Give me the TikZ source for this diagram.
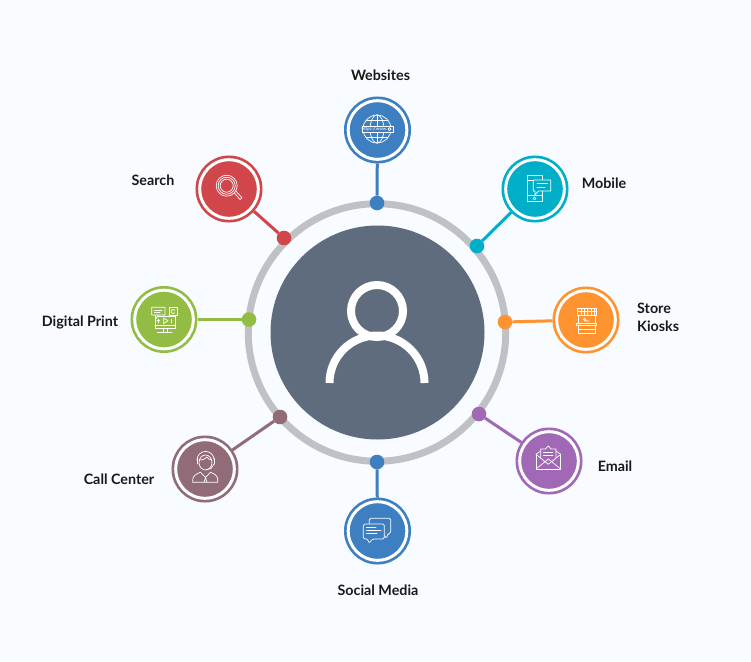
\documentclass[tikz,border=0pt]{standalone}
\usepackage{fontspec}
\setmainfont{Lato}
\usepackage{xcolor}
\usetikzlibrary{calc}
\definecolor{pagebg}{HTML}{F8FBFF}
\definecolor{hubgray}{HTML}{5F6C7E}
\definecolor{ringgray}{HTML}{C0C1C4}
\definecolor{cblue}{HTML}{3E7FC1}
\definecolor{cred}{HTML}{D0464B}
\definecolor{cteal}{HTML}{00AEC7}
\definecolor{corange}{HTML}{FF932F}
\definecolor{cpurple}{HTML}{A068B5}
\definecolor{cmauve}{HTML}{916C78}
\definecolor{cgreen}{HTML}{93BC45}
\tikzstyle{sat}=[circle,inner sep=0pt,outer sep=4.2pt,minimum size=58.6pt,line width=2.7pt,double=white,double distance=3pt]
\tikzstyle{dotn}=[circle,inner sep=0pt,outer sep=0pt,minimum size=14.6pt]
\tikzstyle{lab}=[font=\fontsize{14.3pt}{18pt}\selectfont\bfseries,text=black!90,inner sep=0pt]
\tikzstyle{link}=[line width=3pt]
\tikzstyle{ico}=[draw=white,line width=.7pt,line join=round,line cap=round]
\begin{document}
\begin{tikzpicture}[x=1pt,y=-1pt]
	\useasboundingbox[fill=pagebg] (0,0) rectangle (751,661);
	% ring and hub
	\node[circle,draw=ringgray,line width=7pt,minimum size=257.5pt,inner sep=0pt,outer sep=0pt] (ring) at (377,332.5) {};
	\node[circle,fill=hubgray,minimum size=214pt,inner sep=0pt] (hub) at (377.5,332.5) {};
	\draw[white,line width=8pt] (377,311) circle[radius=26pt];
	\draw[white,line width=8pt] (329.5,383) arc[start angle=180,end angle=0,radius=47.5pt];
	% satellites
	\node[sat,draw=cblue,fill=cblue] (web) at (377.5,130) {};
	\node[sat,draw=cteal,fill=cteal] (mob) at (535,189) {};
	\node[sat,draw=corange,fill=corange] (store) at (586,320) {};
	\node[sat,draw=cpurple,fill=cpurple] (mail) at (549,461) {};
	\node[sat,draw=cblue,fill=cblue] (soc) at (377.5,531) {};
	\node[sat,draw=cmauve,fill=cmauve] (call) at (205,469) {};
	\node[sat,draw=cgreen,fill=cgreen] (print) at (164,319.5) {};
	\node[sat,draw=cred,fill=cred] (search) at (229,189) {};
	% dots on the ring
	\node[dotn,fill=cblue] (dweb) at (377,203) {};
	\node[dotn,fill=cteal] (dmob) at (477,246) {};
	\node[dotn,fill=corange] (dstore) at (505,322) {};
	\node[dotn,fill=cpurple] (dmail) at (479,414) {};
	\node[dotn,fill=cblue] (dsoc) at (377,462) {};
	\node[dotn,fill=cmauve] (dcall) at (280,417) {};
	\node[dotn,fill=cgreen] (dprint) at (249,319.5) {};
	\node[dotn,fill=cred] (dsearch) at (284,238) {};
	% connectors
	\draw[link,cblue] (web) -- (dweb);
	\draw[link,cteal] (mob) -- (dmob);
	\draw[link,corange] (store) -- (dstore);
	\draw[link,cpurple] (mail) -- (dmail);
	\draw[link,cblue] (soc) -- (dsoc);
	\draw[link,cmauve] (call) -- (dcall);
	\draw[link,cgreen] (print) -- (dprint);
	\draw[link,cred] (search) -- (dsearch);
	% labels
	\node[lab] (lweb) at (380.5,75) {Websites};
	\node[lab] (lsearch) at (153,180) {Search};
	\node[lab] (lmob) at (604,183) {Mobile};
	\node[lab,align=left,anchor=west] (lstore) at (637,317.5) {Store\\Kiosks};
	\node[lab] (lmail) at (615,466) {Email};
	\node[lab] (lsoc) at (378,590) {Social Media};
	\node[lab] (lcall) at (119,479) {Call Center};
	\node[lab] (lprint) at (80,322) {Digital Print};
	% globe
	\begin{scope}[ico]
	  \draw (377,129) circle[radius=14pt];
	  \draw (377,129) ellipse[x radius=7pt,y radius=14pt];
	  \draw (377,115) -- (377,143) (366,120.5) -- (388,120.5) (366,137.5) -- (388,137.5);
	  \draw[fill=cblue] (362,126) rectangle (393,132.5);
	  \draw (389.5,129.2) circle[radius=1.5pt];
	\end{scope}
	\node[font=\fontsize{4.5pt}{5pt}\selectfont,text=white,inner sep=0pt] (urltxt) at (374.5,129.4) {https://www.};
	% magnifier
	\begin{scope}[ico]
	  \draw (226.7,185.7) circle[radius=10.5pt] circle[radius=8.5pt] circle[radius=6.5pt];
	  \draw (234.5,193) -- (240,199.5) -- (242,197.8) -- (236.2,191.4);
	\end{scope}
	% phone and message
	\begin{scope}[ico]
	  \draw (527.7,175) rectangle (542.3,201.7);
	  \draw (527.7,180) -- (542.3,180) (527.7,195.5) -- (542.3,195.5);
	  \draw (534.5,198.5) circle[radius=1.4pt];
	  \draw[fill=cteal] (533.3,180) -- (550.7,180) -- (550.7,191) -- (538.5,191) -- (535,194.5) -- (535,191) -- (533.3,191) -- cycle;
	  \draw (537,183.5) -- (547.5,183.5) (537,187) -- (545,187);
	\end{scope}
	% store kiosk
	\begin{scope}[ico]
	  \draw (577.7,308.3) rectangle (596,315.7);
	  \draw (577.7,311) -- (596,311);
	  \foreach \xs in {581,584.4,587.8,591.2,594} {\draw (\xs,308.3) -- (\xs,315.7);}
	  \draw (578.5,315.7) -- (578.5,323.3) (595.2,315.7) -- (595.2,323.3);
	  \draw (576.7,323.3) rectangle (596.7,325);
	  \draw (578.5,325) -- (578.5,333.3) -- (595.2,333.3) -- (595.2,325);
	  \draw (578.5,329) -- (595.2,329);
	  \draw (583,319) -- (585,321) -- (589,321) (584,318) -- (586,320);
	\end{scope}
	% envelope
	\begin{scope}[ico]
	  \draw (536,454.3) -- (536,469) -- (560.7,469) -- (560.7,454.3);
	  \draw (536,469) -- (548.3,459) -- (560.7,469);
	  \draw (536,454.3) -- (540.7,451) (560.7,454.3) -- (556,451);
	  \draw (540.7,458) -- (540.7,449) -- (545.5,449) -- (548.3,446) -- (551.2,449) -- (556,449) -- (556,458);
	  \draw (536,454.3) -- (548.3,464.3) -- (560.7,454.3);
	  \draw (543.5,452.5) -- (553,452.5) (543.5,455.2) -- (553,455.2);
	\end{scope}
	% chat bubbles
	\begin{scope}[ico]
	  \draw[rounded corners=1.5pt] (369.3,524) -- (369.3,518.3) -- (390.7,518.3) -- (390.7,533.3) -- (388,533.3) -- (386.5,538.5) -- (384.5,535.5);
	  \draw[fill=cblue,rounded corners=1.5pt] (363.3,524) -- (384.3,524) -- (384.3,539) -- (372.5,539) -- (368.7,543.5) -- (368,539) -- (363.3,539) -- cycle;
	  \draw (366.5,527.5) -- (376,527.5) (366.5,530.3) -- (381,530.3) (366.5,533.3) -- (377,533.3);
	\end{scope}
	% agent with headset
	\begin{scope}[ico]
	  \draw (205.5,462.5) ellipse[x radius=6.5pt,y radius=7.5pt];
	  \draw (199.3,460) .. controls (203,460) and (206,458.5) .. (207,457) .. controls (208,459) and (210,460) .. (211.7,460);
	  \draw (197,460) arc[start angle=180,end angle=0,radius=8.6pt];
	  \draw (197,458.5) -- (197,464) (214.2,458.5) -- (214.2,464);
	  \draw (214.2,464) -- (211,468.5) -- (206,469.5);
	  \draw (192.8,482.3) -- (192.8,479.5) .. controls (192.8,476) and (196,474) .. (200.5,472.2) -- (205.5,477.5) -- (210.5,472.2) .. controls (215,474) and (217.7,476) .. (217.7,479.5) -- (217.7,482.3) -- cycle;
	  \draw (205.5,477.5) -- (204,482.3) (205.5,477.5) -- (207,482.3);
	\end{scope}
	% screen with media
	\begin{scope}[ico]
	  \draw (155,316.7) rectangle (175,328.3);
	  \draw (155,325.5) -- (175,325.5);
	  \draw (163,328.3) -- (163,332.7) (167,328.3) -- (167,332.7) (157.3,332.7) -- (172,332.7);
	  \draw[fill=cgreen] (151.7,307.3) rectangle (165,315) (155,315) -- (156,318.5) -- (158.5,315);
	  \draw (154.5,310) -- (162,310) (154.5,312.5) -- (160,312.5);
	  \draw[fill=cgreen] (169,307.7) rectangle (177.3,315.7);
	  \draw (174.8,310.5) arc[start angle=30,end angle=320,radius=2pt];
	  \draw (163.7,318) -- (168,320.8) -- (163.7,323.5) -- cycle;
	  \draw (158,319) -- (158,323) (157,320.5) -- (159.5,320.5) (171.5,319.5) -- (171.5,323);
	\end{scope}
\end{tikzpicture}
\end{document}
